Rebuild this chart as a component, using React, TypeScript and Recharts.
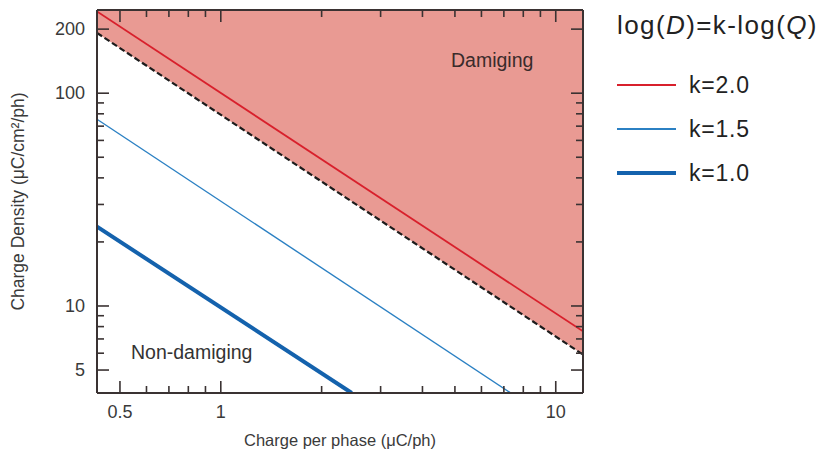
import React from "react";
import { ComposedChart, Line, Area, XAxis, YAxis, Legend } from "recharts";

// plot edges
const chargeDomain = [0.427, 12.06];
const densityDomain = [3.9, 246];

const xTicks = [0.5, 0.6, 0.7, 0.8, 0.9, 1, 2, 3, 4, 5, 6, 7, 8, 9, 10];
const xLabels = [0.5, 1, 10];
const yTicks = [5, 6, 7, 8, 9, 10, 20, 30, 40, 50, 60, 70, 80, 90, 100, 200];
const yLabels = [5, 10, 100, 200];

// end points of each line (Q in uC/ph, D in uC/cm2/ph)
const k20Charge = [0.427, 12.06];
const k20Density = [242, 7.6];
const k15Charge = [0.427, 7.34];
const k15Density = [75.4, 3.9];
const k10Charge = [0.427, 2.46];
const k10Density = [23.6, 3.9];
const limitCharge = [0.427, 12.06];
const limitDensity = [192, 5.91];
const damageTop = [246, 246];

const seriesNames = ["k=2.0", "k=1.5", "k=1.0"];
const seriesColors = ["#d8202c", "#2b80c3", "#1462ad"];
const seriesWidths = [1.8, 1.4, 4];

const toRows = (qs: number[], ds: number[]) => qs.map((q, i) => ({ q, d: ds[i] }));

const k20Data = toRows(k20Charge, k20Density);
const k15Data = toRows(k15Charge, k15Density);
const k10Data = toRows(k10Charge, k10Density);
const limitData = toRows(limitCharge, limitDensity);
const damageData = limitCharge.map((q, i) => ({ q, band: [limitDensity[i], damageTop[i]] }));

const FRAME = "#3a3232";
const FONT = "'Liberation Sans', Arial, sans-serif";

function BottomTick({ x, y, payload }: any) {
  const major = xLabels.includes(payload.value);
  return (
    <g>
      <line x1={x} x2={x} y1={y} y2={y - (major ? 12 : 7)} stroke={FRAME} strokeWidth={1.6} />
      {major && (
        <text x={x} y={y + 19} textAnchor="middle" dominantBaseline="central" fontSize={18} fill="#3a3a3a" fontFamily={FONT}>
          {payload.value}
        </text>
      )}
    </g>
  );
}

function TopTick({ x, y, payload }: any) {
  const major = xLabels.includes(payload.value);
  return <line x1={x} x2={x} y1={y} y2={y + (major ? 12 : 7)} stroke={FRAME} strokeWidth={1.6} />;
}

function LeftTick({ x, y, payload }: any) {
  const major = yLabels.includes(payload.value);
  return (
    <g>
      <line x1={x} x2={x + (major ? 12 : 7)} y1={y} y2={y} stroke={FRAME} strokeWidth={1.6} />
      {major && (
        <text x={x - 12} y={y} textAnchor="end" dominantBaseline="central" fontSize={18} fill="#3a3a3a" fontFamily={FONT}>
          {payload.value}
        </text>
      )}
    </g>
  );
}

function RightTick({ x, y, payload }: any) {
  const major = yLabels.includes(payload.value);
  return <line x1={x} x2={x - (major ? 12 : 7)} y1={y} y2={y} stroke={FRAME} strokeWidth={1.6} />;
}

function KeyBox() {
  return (
    <div style={{ fontFamily: FONT, color: "#222" }}>
      <div style={{ fontSize: 26, lineHeight: "30px", letterSpacing: 1.4, whiteSpace: "nowrap" }}>
        log(<i>D</i>)=k-log(<i>Q</i>)
      </div>
      {seriesNames.map((name, i) => (
        <div key={name} style={{ display: "flex", alignItems: "center", height: 44, marginTop: i === 0 ? 23 : 0 }}>
          <span style={{ display: "inline-block", width: 59, height: seriesWidths[i], background: seriesColors[i], marginRight: 13 }} />
          <span style={{ fontSize: 23, letterSpacing: 0.8 }}>{name}</span>
        </div>
      ))}
    </div>
  );
}

export default function App() {
  return (
    <div style={{ position: "relative", width: 811, height: 448, fontFamily: FONT }}>
      <ComposedChart width={811} height={448} margin={{ top: 2, right: 236, bottom: 0, left: 0 }}>
        <XAxis
          dataKey="q"
          type="number"
          scale="log"
          domain={chargeDomain}
          allowDataOverflow
          ticks={xTicks}
          interval={0}
          height={63}
          tickSize={0}
          tickMargin={0}
          tickLine={false}
          tick={<BottomTick />}
          axisLine={{ stroke: FRAME, strokeWidth: 2 }}
          label={{ value: "Charge per phase (μC/ph)", position: "insideBottom", offset: 10, fontSize: 16.5, fill: "#3a3a3a" }}
        />
        <XAxis
          xAxisId="top"
          orientation="top"
          mirror
          dataKey="q"
          type="number"
          scale="log"
          domain={chargeDomain}
          allowDataOverflow
          ticks={xTicks}
          interval={0}
          tickSize={0}
          tickMargin={0}
          tickLine={false}
          tick={<TopTick />}
          axisLine={{ stroke: FRAME, strokeWidth: 2 }}
        />
        <YAxis
          type="number"
          scale="log"
          domain={densityDomain}
          allowDataOverflow
          ticks={yTicks}
          interval={0}
          width={89}
          tickSize={0}
          tickMargin={0}
          tickLine={false}
          tick={<LeftTick />}
          axisLine={{ stroke: FRAME, strokeWidth: 2 }}
          label={{
            value: "Charge Density (μC/cm²/ph)",
            angle: -90,
            position: "insideLeft",
            offset: 10,
            fontSize: 17.5,
            fill: "#3a3a3a",
            style: { textAnchor: "middle" },
          }}
        />
        <YAxis
          yAxisId="right"
          orientation="right"
          mirror
          type="number"
          scale="log"
          domain={densityDomain}
          allowDataOverflow
          ticks={yTicks}
          interval={0}
          tickSize={0}
          tickMargin={0}
          tickLine={false}
          tick={<RightTick />}
          axisLine={{ stroke: FRAME, strokeWidth: 2 }}
        />
        <Area
          data={damageData}
          dataKey="band"
          type="linear"
          fill="#e99a93"
          fillOpacity={1}
          stroke="none"
          legendType="none"
          isAnimationActive={false}
        />
        <Line data={limitData} dataKey="d" type="linear" stroke="#1c1c1c" strokeWidth={2.2} strokeDasharray="6 3" dot={false} legendType="none" isAnimationActive={false} />
        <Line data={k20Data} dataKey="d" name={seriesNames[0]} type="linear" stroke={seriesColors[0]} strokeWidth={seriesWidths[0]} dot={false} isAnimationActive={false} />
        <Line data={k15Data} dataKey="d" name={seriesNames[1]} type="linear" stroke={seriesColors[1]} strokeWidth={seriesWidths[1]} dot={false} isAnimationActive={false} />
        <Line data={k10Data} dataKey="d" name={seriesNames[2]} type="linear" stroke={seriesColors[2]} strokeWidth={seriesWidths[2]} dot={false} isAnimationActive={false} />
        <Legend layout="vertical" align="center" verticalAlign="middle" wrapperStyle={{ left: 609, top: 2, width: 210 }} content={() => <KeyBox />} />
      </ComposedChart>
      <div style={{ position: "absolute", left: 443, top: 41, fontSize: 19.5, color: "#3a2b2b", whiteSpace: "nowrap" }}>Damiging</div>
      <div style={{ position: "absolute", left: 123, top: 333, fontSize: 19.5, color: "#333", whiteSpace: "nowrap" }}>Non-damiging</div>
    </div>
  );
}
